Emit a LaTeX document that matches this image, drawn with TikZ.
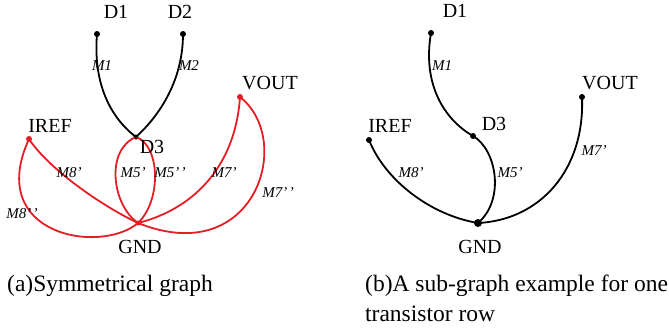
\documentclass[tikz,border=0pt]{standalone}
\usepackage{fontspec}
\setmainfont{Liberation Serif}
\begin{document}
\begin{tikzpicture}[x=1pt,y=-1pt,
  bdot/.style={circle,fill=black,inner sep=0pt,minimum size=6pt},
  rdot/.style={circle,fill=myred,inner sep=0pt,minimum size=6pt},
  bigdot/.style={circle,fill=black,inner sep=0pt,minimum size=8pt},
  nname/.style={anchor=base,inner sep=0pt,font=\fontsize{20}{24}\selectfont},
  mlab/.style={anchor=base,inner sep=0pt,font=\fontsize{15}{18}\selectfont\itshape},
  captxt/.style={anchor=base west,inner sep=0pt,font=\fontsize{23.5}{30}\selectfont},
  bline/.style={line width=1.8pt,black},
  rline/.style={line width=1.8pt,myred}]
\definecolor{myred}{RGB}{228,30,36}
\useasboundingbox (0,0) rectangle (669,333);

% ---------- (a) ----------
\node[bdot] (aD1) at (97,34) {};
\node[bdot] (aD2) at (183,34) {};
\node[bdot,minimum size=5pt] (aD3) at (136,137) {};
\node[rdot] (aIREF) at (29,139) {};
\node[rdot] (aVOUT) at (240,97) {};
\node[rdot,minimum size=5pt] (aGND) at (138,223) {};

\draw[rline] (aD3.center) .. controls (105,150) and (112,205) .. (aGND.center);
\draw[rline] (aD3.center) .. controls (160,145) and (162,200) .. (aGND.center);
\draw[rline] (aIREF.center) .. controls (48,168) and (100,205) .. (aGND.center);
\draw[rline] (aIREF.center) .. controls (-15,235) and (100,255) .. (aGND.center);
\draw[rline] (aVOUT.center) .. controls (235,170) and (190,210) .. (aGND.center);
\draw[rline] (aVOUT.center) .. controls (295,140) and (255,270) .. (aGND.center);
\draw[bline] (aD1.center) .. controls (92,95) and (120,125) .. (aD3.center);
\draw[bline] (aD2.center) .. controls (183,80) and (160,115) .. (aD3.center);

\node[nname] (aD1t) at (116,18) {D1};
\node[nname] (aD2t) at (180,18) {D2};
\node[nname] (aD3t) at (152,153) {D3};
\node[nname] (aIREFt) at (50,132) {IREF};
\node[nname] (aVOUTt) at (270,89) {VOUT};
\node[nname] (aGNDt) at (140,253) {GND};
\node[mlab] (aM1) at (102,70) {M1};
\node[mlab] (aM2) at (189,70) {M2};
\node[mlab] (aM8a) at (69,177) {M8'};
\node[mlab] (aM8b) at (22,218) {M8'\kern1.5pt'};
\node[mlab] (aM5a) at (133,177) {M5'};
\node[mlab] (aM5b) at (170,177) {M5'\kern1.5pt'};
\node[mlab] (aM7a) at (224,177) {M7'};
\node[mlab] (aM7b) at (278,197) {M7'\kern1.5pt'};

% ---------- (b) ----------
\node[bdot] (bD1) at (431,33) {};
\node[bdot] (bD3) at (473,136) {};
\node[bdot] (bIREF) at (369,140) {};
\node[bdot] (bVOUT) at (582,97) {};
\node[bigdot] (bGND) at (478,223) {};

\draw[bline] (bD1.center) .. controls (422,85) and (445,120) .. (bD3.center);
\draw[bline] (bD3.center) .. controls (497,150) and (505,200) .. (bGND.center);
\draw[bline] (bIREF.center) .. controls (385,180) and (430,215) .. (bGND.center);
\draw[bline] (bVOUT.center) .. controls (585,170) and (540,220) .. (bGND.center);

\node[nname] (bD1t) at (455,17) {D1};
\node[nname] (bD3t) at (494,130) {D3};
\node[nname] (bIREFt) at (390,132) {IREF};
\node[nname] (bVOUTt) at (610,89) {VOUT};
\node[nname] (bGNDt) at (480,253) {GND};
\node[mlab] (bM1) at (442,70) {M1};
\node[mlab] (bM8a) at (411,177) {M8'};
\node[mlab] (bM5a) at (510,177) {M5'};
\node[mlab] (bM7a) at (594,155) {M7'};

% ---------- captions ----------
\node[captxt] (capa) at (7,291) {(a)Symmetrical graph};
\node[captxt] (capb1) at (365,291) {(b)A sub-graph example for one};
\node[captxt] (capb2) at (365,321) {transistor row};
\end{tikzpicture}
\end{document}
